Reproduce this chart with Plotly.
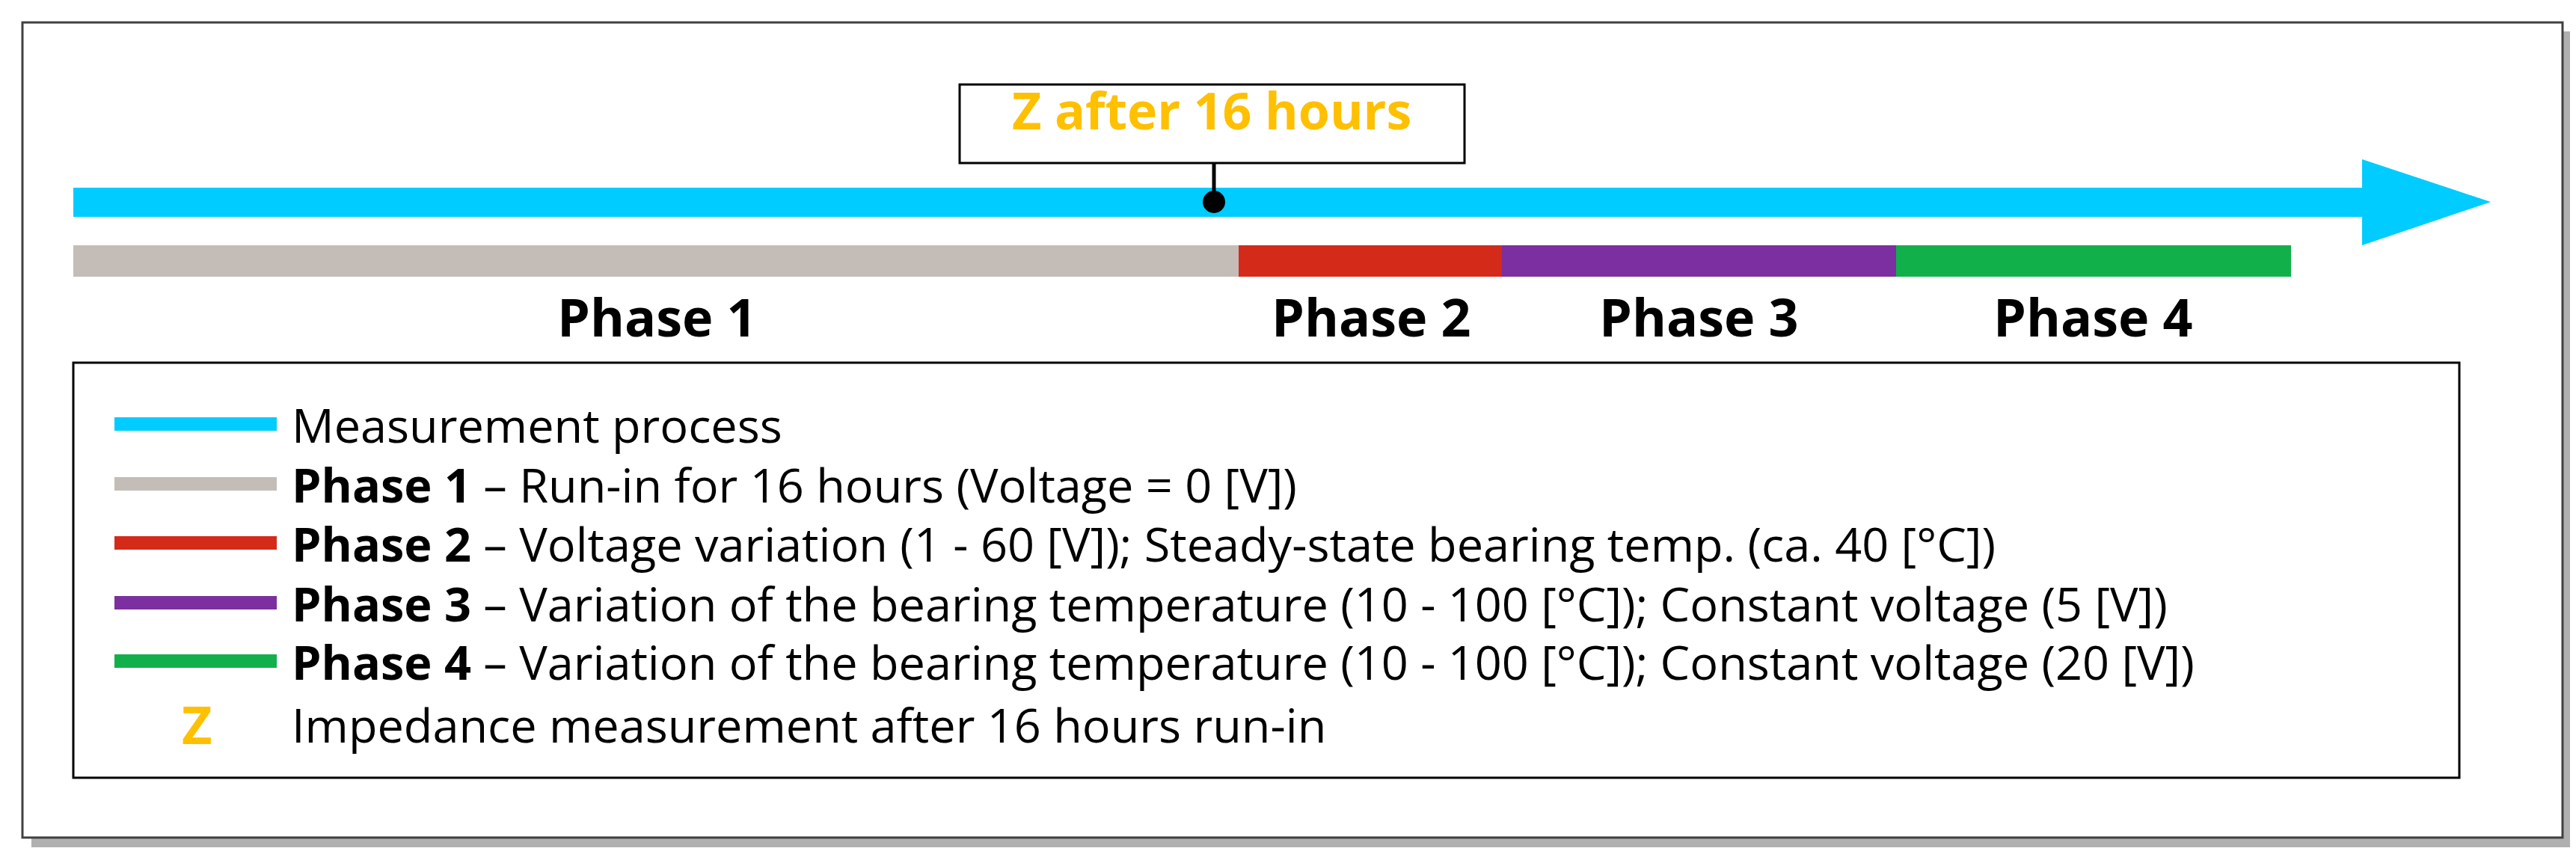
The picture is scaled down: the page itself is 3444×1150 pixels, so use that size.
import plotly.graph_objects as go

W, H = 3444, 1150
phase_names = ["Phase 1", "Phase 2", "Phase 3", "Phase 4"]
phase_bounds = [90, 1648, 2000, 2527, 3055]
phase_colors = ["#C4BDB7", "#D42A1A", "#7B2FA0", "#12B04A"]
blue = "#00CCFF"
orange = "#FFC000"
legend_colors = [blue] + phase_colors
legend_bold = ["", "Phase 1", "Phase 2", "Phase 3", "Phase 4", ""]
legend_text = ["Measurement process",
               " – Run-in for 16 hours (Voltage = 0 [V])",
               " – Voltage variation (1 - 60 [V]); Steady-state bearing temp. (ca. 40 [°C])",
               " – Variation of the bearing temperature (10 - 100 [°C]); Constant voltage (5 [V])",
               " – Variation of the bearing temperature (10 - 100 [°C]); Constant voltage (20 [V])",
               "Impedance measurement after 16 hours run-in"]
legend_y = [559, 639, 718, 798, 876, 960]
FONT = "Open Sans"

fig = go.Figure()
shapes = []
shapes.append(dict(type="rect", x0=34, y0=34, x1=3430, y1=1125, fillcolor="#B0B0B0", line_width=0, layer="below"))
shapes.append(dict(type="rect", x0=22, y0=22, x1=3418, y1=1112, fillcolor="white", line=dict(color="#404040", width=3), layer="below"))
shapes.append(dict(type="rect", x0=90, y0=243, x1=3160, y1=282, fillcolor=blue, line_width=0))
shapes.append(dict(type="path", path="M 3150 205 L 3322 262 L 3150 320 Z", fillcolor=blue, line_width=0))
for i in range(4):
    shapes.append(dict(type="rect", x0=phase_bounds[i], x1=phase_bounds[i+1], y0=320, y1=362,
                       fillcolor=phase_colors[i], line_width=0))
shapes.append(dict(type="rect", x0=1275, y0=105, x1=1950, y1=210, fillcolor="white", line=dict(color="black", width=3)))
shapes.append(dict(type="line", x0=1615, x1=1615, y0=210, y1=258, line=dict(color="black", width=5)))
shapes.append(dict(type="circle", x0=1600, x1=1630, y0=247, y1=277, fillcolor="black", line_width=0))
shapes.append(dict(type="rect", x0=90, y0=477, x1=3280, y1=1032, fillcolor="white", line=dict(color="black", width=3)))
for c, y in zip(legend_colors, legend_y[:5]):
    shapes.append(dict(type="line", x0=145, x1=362, y0=y, y1=y, line=dict(color=c, width=18)))

ann = []
for i, n in enumerate(phase_names):
    cx = [870, 1825, 2263, 2790][i]
    ann.append(dict(x=cx, y=415, text=f"<b>{n}</b>", font=dict(size=70, color="black", family=FONT), showarrow=False))
ann.append(dict(x=1612, y=138, text="<b>Z after 16 hours</b>", font=dict(size=68, color=orange, family=FONT), showarrow=False))
for b, t, y in zip(legend_bold, legend_text, legend_y):
    txt = (f"<b>{b}</b>" if b else "") + t
    ann.append(dict(x=380, y=y, text=txt, xanchor="left", font=dict(size=63, color="black", family=FONT), showarrow=False))
ann.append(dict(x=255, y=legend_y[5], text="<b>Z</b>", font=dict(size=70, color=orange, family=FONT), showarrow=False))

fig.update_layout(width=W, height=H, margin=dict(l=0, r=0, t=0, b=0), plot_bgcolor="white", paper_bgcolor="white",
                  xaxis=dict(range=[0, W], visible=False), yaxis=dict(range=[H, 0], visible=False),
                  shapes=shapes, annotations=ann, showlegend=False)
fig.write_html("out.html")
